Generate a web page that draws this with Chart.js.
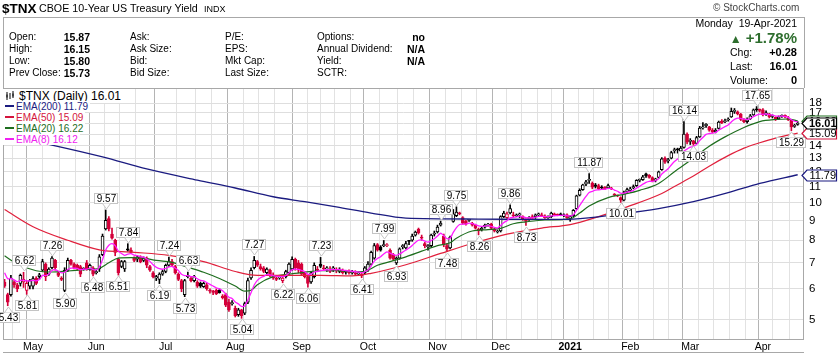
<!DOCTYPE html>
<html><head><meta charset="utf-8">
<script src="https://cdn.jsdelivr.net/npm/chart.js@4.4.0/dist/chart.umd.min.js"></script>
<style>
html,body{margin:0;padding:0;background:#fff;}
#wrap{position:relative;width:838px;height:355px;overflow:hidden;font-family:"Liberation Sans",Arial,sans-serif;color:#000;}
canvas{position:absolute;left:0;top:0;}
.t{position:absolute;white-space:nowrap;font-size:10px;line-height:12px;}
.b{font-weight:bold;font-size:10.5px;}
.r{text-align:right;}
#box{position:absolute;left:3px;top:17px;width:800px;height:70px;border:1px solid #a8a8a8;border-bottom:none;}
.lg{position:absolute;left:3px;white-space:nowrap;background:#fff;font-size:10px;line-height:11px;padding-right:2px;}
.dash{display:inline-block;width:9px;height:2px;margin:0 2px 0 2px;vertical-align:middle;position:relative;top:-1px;}
</style></head><body>
<div id="wrap">
<canvas id="c" width="838" height="355"></canvas>
<div id="box"></div>
<div class="t" style="left:2px;top:1px;font-size:13.5px;font-weight:bold;line-height:15px;">$TNX</div>
<div class="t" style="left:39px;top:2px;font-size:10.7px;">CBOE 10-Year US Treasury Yield</div>
<div class="t" style="left:204px;top:3px;font-size:9px;">INDX</div>
<div class="t" style="left:713px;top:2px;font-size:10px;color:#444;">© StockCharts.com</div>

<div class="t" style="left:9px;top:31px;">Open:</div>
<div class="t" style="left:9px;top:43px;">High:</div>
<div class="t" style="left:9px;top:55px;">Low:</div>
<div class="t" style="left:9px;top:67px;">Prev Close:</div>
<div class="t b r" style="left:40px;width:50px;top:31px;">15.87</div>
<div class="t b r" style="left:40px;width:50px;top:43px;">16.15</div>
<div class="t b r" style="left:40px;width:50px;top:55px;">15.80</div>
<div class="t b r" style="left:40px;width:50px;top:67px;">15.73</div>

<div class="t" style="left:130px;top:31px;">Ask:</div>
<div class="t" style="left:130px;top:43px;">Ask Size:</div>
<div class="t" style="left:130px;top:55px;">Bid:</div>
<div class="t" style="left:130px;top:67px;">Bid Size:</div>

<div class="t" style="left:225px;top:31px;">P/E:</div>
<div class="t" style="left:225px;top:43px;">EPS:</div>
<div class="t" style="left:225px;top:55px;">Mkt Cap:</div>
<div class="t" style="left:225px;top:67px;">Last Size:</div>

<div class="t" style="left:317px;top:31px;">Options:</div>
<div class="t" style="left:317px;top:43px;">Annual Dividend:</div>
<div class="t" style="left:317px;top:55px;">Yield:</div>
<div class="t" style="left:317px;top:67px;">SCTR:</div>
<div class="t b r" style="left:375px;width:50px;top:31px;">no</div>
<div class="t b r" style="left:375px;width:50px;top:43px;">N/A</div>
<div class="t b r" style="left:375px;width:50px;top:55px;">N/A</div>

<div class="t r" style="left:640px;width:157px;top:17px;font-size:10.5px;">Monday&nbsp; 19-Apr-2021</div>
<div class="t r" style="left:640px;width:157px;top:30px;font-size:15px;line-height:16px;font-weight:bold;color:#2e6e2e;"><span style="font-size:12px;">&#9650;</span> +1.78%</div>
<div class="t" style="left:730px;top:46px;font-size:10.5px;">Chg:</div>
<div class="t b r" style="left:747px;width:50px;top:46px;font-size:11px;">+0.28</div>
<div class="t" style="left:730px;top:60px;font-size:10.5px;">Last:</div>
<div class="t b r" style="left:747px;width:50px;top:60px;font-size:11px;">16.01</div>
<div class="t" style="left:730px;top:74px;font-size:10.5px;">Volume:</div>
<div class="t b r" style="left:747px;width:50px;top:74px;font-size:11px;">0</div>

<div class="lg" style="top:89px;font-size:12px;line-height:14px;"><svg width="11" height="10" style="vertical-align:-1px;margin:0 3px 0 2px"><path d="M2 1V9M5 2V8M8 0V7" stroke="#000" stroke-width="1"/><rect x="1.5" y="3.5" width="1" height="3" fill="#000"/><rect x="7.5" y="2.5" width="1" height="3" fill="#000"/></svg>$TNX (Daily) 16.01</div>
<div class="lg" style="top:101px;color:#1b1b80;"><span class="dash" style="background:#1b1b80"></span>EMA(200) 11.79</div>
<div class="lg" style="top:112px;color:#d4143c;"><span class="dash" style="background:#d4143c"></span>EMA(50) 15.09</div>
<div class="lg" style="top:123px;color:#1e6e1e;"><span class="dash" style="background:#1e6e1e"></span>EMA(20) 16.22</div>
<div class="lg" style="top:134px;color:#f020f0;"><span class="dash" style="background:#f020f0"></span>EMA(8) 16.12</div>
<div style="position:absolute;left:3px;top:352px;width:801px;height:1px;background:#a8a8a8;"></div>
</div>
<script>
// Trading-day index 0 = 20-Apr-2020 ... 251 = 19-Apr-2021
const open = [
6.25,5.80,5.80,6.25,6.15,6.20,6.25,5.95,6.10,6.10,
6.40,6.45,6.70,6.95,6.55,6.80,7.10,6.60,6.40,5.95,
6.70,7.10,6.95,6.90,6.85,6.75,7.00,6.75,6.80,6.60,
6.75,7.35,8.55,9.10,8.30,8.00,7.15,6.85,6.75,7.60,
7.55,7.20,7.15,7.25,7.10,7.20,6.85,6.60,6.40,6.35,
6.55,6.65,6.90,7.05,6.85,6.55,6.30,5.80,6.45,6.40,
6.30,6.25,6.20,6.08,6.15,5.95,5.90,5.95,5.95,5.75,
5.80,5.55,5.50,5.35,5.15,5.30,5.20,5.55,6.40,6.80,
7.05,6.85,6.80,6.60,6.70,6.50,6.40,6.40,6.30,6.45,
6.60,6.75,7.15,7.00,6.95,6.60,6.45,6.25,6.45,6.75,
6.95,6.80,6.75,6.70,6.75,6.70,6.65,6.70,6.62,6.65,
6.60,6.60,6.55,6.55,6.60,6.70,6.95,7.20,7.80,7.70,
7.75,7.75,7.55,7.35,7.00,7.20,7.70,7.65,7.95,8.00,
8.25,8.55,8.15,7.85,7.70,7.75,8.30,8.40,8.75,8.20,
7.75,7.65,8.95,9.25,9.40,9.15,8.95,9.00,8.85,8.75,
8.55,8.50,8.65,8.75,8.80,8.55,8.40,8.45,9.20,9.15,
9.40,9.30,9.25,9.30,9.20,9.05,9.05,9.20,9.20,9.30,
9.30,9.25,9.15,9.20,9.35,9.30,9.35,9.25,9.30,9.10,
9.25,9.65,10.45,10.80,11.15,11.40,11.20,11.10,11.05,10.95,
10.95,10.90,10.90,10.50,10.40,10.30,10.15,10.65,10.75,10.90,
11.05,11.40,11.45,11.85,11.75,11.60,11.40,11.60,12.15,13.00,
12.80,13.00,13.60,13.75,13.55,13.85,15.00,14.35,14.40,14.20,
14.75,15.55,15.75,15.65,15.35,15.20,15.50,16.20,16.15,16.30,
16.60,17.15,17.10,16.85,16.35,16.15,16.40,16.80,17.35,17.30,
17.30,16.85,16.90,16.65,16.55,16.40,16.65,16.75,16.50,16.30,15.70,15.87];
const high = [
6.35,5.85,6.50,6.30,6.20,6.55,6.62,6.30,6.35,6.45,
6.45,6.58,7.15,7.00,6.80,7.26,7.15,6.65,6.45,6.80,
7.20,7.15,7.00,6.95,6.90,6.80,7.10,6.95,6.85,6.70,
7.35,8.30,9.57,9.20,8.60,8.05,7.20,7.10,7.10,7.84,
7.65,7.25,7.30,7.30,7.25,7.25,6.90,6.65,6.50,6.60,
6.70,6.95,7.24,7.15,6.90,6.60,6.35,6.35,6.63,6.45,
6.50,6.30,6.25,6.25,6.20,6.00,5.95,6.00,6.00,5.80,
5.85,5.65,5.60,5.42,5.35,5.32,5.55,6.40,6.80,7.27,
7.10,6.95,6.85,6.80,6.75,6.60,6.45,6.50,6.45,6.70,
7.00,7.25,7.20,7.10,7.00,6.65,6.50,6.65,7.00,6.85,
7.23,6.90,6.85,6.85,6.85,6.80,6.80,6.75,6.70,6.72,
6.70,6.68,6.65,6.60,6.85,7.05,7.50,7.85,7.85,7.75,
7.99,7.85,7.60,7.40,7.25,7.65,7.80,7.95,8.00,8.30,
8.45,8.60,8.25,7.90,7.80,8.30,8.45,8.75,8.96,8.30,
7.85,8.20,9.60,9.75,9.45,9.20,9.00,9.05,8.90,8.80,
8.60,8.65,8.80,8.85,8.85,8.60,8.50,9.25,9.50,9.45,
9.86,9.45,9.35,9.40,9.25,9.10,9.20,9.30,9.35,9.40,
9.40,9.30,9.25,9.45,9.40,9.35,9.40,9.35,9.35,9.25,
9.60,10.45,10.85,11.15,11.40,11.87,11.30,11.20,11.15,11.05,
11.00,11.15,10.95,10.55,10.45,10.35,10.70,10.90,10.95,11.10,
11.45,11.50,11.75,11.90,11.80,11.65,11.55,12.05,13.05,13.10,
13.00,13.55,13.80,13.80,13.95,16.14,15.10,14.60,14.45,14.80,
15.70,16.05,15.95,15.70,15.50,15.50,16.20,16.35,16.40,16.50,
17.50,17.45,17.20,16.95,16.45,16.50,16.85,17.40,17.65,17.40,
17.45,17.20,16.95,16.80,16.60,16.70,16.80,16.80,16.65,16.35,15.90,16.15];
const low = [
6.05,5.43,5.75,6.05,5.90,6.10,6.05,5.81,6.00,6.00,
6.15,6.35,6.65,6.30,6.50,6.75,6.70,6.45,6.30,5.90,
6.65,6.90,6.75,6.70,6.45,6.70,6.70,6.70,6.48,6.55,
6.65,7.30,8.50,8.45,8.05,7.30,6.51,6.80,6.65,7.50,
7.40,7.05,7.05,7.00,7.05,6.80,6.65,6.40,6.30,6.19,
6.50,6.60,6.85,6.85,6.55,6.30,5.90,5.73,6.40,6.25,
6.25,6.05,6.05,6.05,5.95,5.85,5.80,5.80,5.85,5.65,
5.40,5.25,5.45,5.08,5.10,5.04,5.15,5.50,6.35,6.75,
6.85,6.70,6.60,6.55,6.45,6.35,6.30,6.35,6.22,6.40,
6.55,6.70,6.70,6.60,6.50,6.40,6.06,6.20,6.40,6.65,
6.80,6.70,6.65,6.60,6.65,6.60,6.60,6.55,6.55,6.55,
6.55,6.50,6.50,6.41,6.55,6.65,6.90,7.15,7.50,7.50,
7.70,7.70,7.15,7.10,6.93,7.15,7.60,7.60,7.80,7.95,
8.20,8.30,8.00,7.65,7.55,7.70,8.20,8.35,8.70,7.70,
7.48,7.60,8.90,9.20,9.30,8.80,8.75,8.95,8.70,8.55,
8.26,8.45,8.60,8.70,8.55,8.40,8.35,8.40,9.15,9.10,
9.35,9.20,9.20,9.15,9.00,8.73,9.00,9.05,9.10,9.25,
9.20,9.10,9.10,9.15,9.25,9.25,9.25,9.20,9.10,8.95,
9.20,9.60,10.40,10.75,11.05,11.20,10.85,10.90,10.80,10.85,
10.80,10.85,10.80,10.40,10.35,10.01,10.10,10.55,10.70,10.85,
11.00,11.30,11.40,11.60,11.55,11.30,11.30,11.55,12.10,12.60,
12.65,12.95,13.40,13.40,13.45,13.80,14.15,14.10,14.03,14.15,
14.70,15.45,15.60,15.25,15.10,15.10,15.45,15.95,16.05,16.20,
16.55,16.95,16.80,16.25,16.05,16.00,16.35,16.75,17.15,17.10,
16.70,16.75,16.50,16.50,16.25,16.35,16.55,16.50,16.25,15.29,15.60,15.80];
const close = [
6.10,5.55,6.40,6.15,6.00,6.50,6.35,6.20,6.30,6.38,
6.20,6.52,7.05,6.45,6.75,7.20,6.80,6.50,6.35,6.70,
7.10,6.95,6.80,6.75,6.55,6.78,6.75,6.90,6.55,6.65,
7.25,8.20,9.00,8.55,8.10,7.45,6.60,7.05,7.05,7.55,
7.45,7.10,7.25,7.05,7.20,6.90,6.70,6.45,6.45,6.55,
6.65,6.90,7.05,6.90,6.60,6.35,6.00,6.30,6.50,6.30,
6.45,6.10,6.10,6.20,6.00,5.92,5.88,5.82,5.87,5.70,
5.45,5.30,5.52,5.12,5.30,5.12,5.50,6.30,6.70,7.10,
6.90,6.75,6.65,6.75,6.50,6.40,6.35,6.45,6.40,6.65,
6.95,7.15,6.80,6.70,6.55,6.45,6.20,6.60,6.90,6.70,
6.85,6.75,6.80,6.65,6.80,6.68,6.75,6.60,6.65,6.60,
6.62,6.55,6.60,6.48,6.80,6.95,7.45,7.75,7.55,7.55,
7.80,7.78,7.20,7.15,7.20,7.60,7.75,7.85,7.95,8.20,
8.40,8.35,8.10,7.75,7.75,8.25,8.35,8.65,8.85,7.80,
7.60,8.15,9.35,9.45,9.35,8.85,8.80,9.02,8.75,8.60,
8.45,8.60,8.75,8.80,8.60,8.45,8.45,9.20,9.40,9.35,
9.65,9.25,9.30,9.35,9.05,8.95,9.15,9.10,9.30,9.35,
9.25,9.15,9.20,9.40,9.30,9.28,9.30,9.30,9.15,9.20,
9.55,10.40,10.75,11.10,11.30,11.45,10.95,11.00,10.85,10.90,
10.85,11.05,10.85,10.45,10.40,10.15,10.60,10.80,10.85,11.00,
11.40,11.45,11.65,11.70,11.60,11.35,11.50,12.00,12.95,12.70,
12.90,13.45,13.65,13.65,13.80,15.00,14.30,14.45,14.15,14.70,
15.55,15.65,15.90,15.35,15.20,15.35,16.10,16.05,16.25,16.40,
17.15,17.20,16.90,16.35,16.15,16.30,16.70,17.30,17.30,17.25,
16.80,17.00,16.60,16.70,16.35,16.60,16.70,16.60,16.30,15.65,15.73,16.01];

// EMA(8), one value per trading day
const ema8 = [
6.60,6.37,6.38,6.33,6.26,6.31,6.32,6.29,6.29,6.31,
6.29,6.34,6.50,6.49,6.55,6.69,6.72,6.67,6.60,6.62,
6.73,6.78,6.78,6.77,6.72,6.74,6.74,6.78,6.73,6.71,
6.83,7.13,7.55,7.77,7.84,7.75,7.50,7.40,7.32,7.37,
7.39,7.33,7.31,7.25,7.24,7.16,7.06,6.92,6.82,6.76,
6.74,6.77,6.83,6.85,6.79,6.69,6.54,6.49,6.49,6.45,
6.45,6.37,6.31,6.29,6.23,6.16,6.10,6.04,6.00,5.93,
5.82,5.71,5.67,5.55,5.49,5.41,5.43,5.62,5.86,6.14,
6.31,6.41,6.46,6.53,6.52,6.49,6.46,6.46,6.45,6.49,
6.59,6.72,6.74,6.73,6.69,6.64,6.54,6.55,6.63,6.65,
6.69,6.70,6.72,6.71,6.73,6.72,6.73,6.70,6.69,6.67,
6.66,6.64,6.63,6.60,6.64,6.71,6.87,7.07,7.18,7.26,
7.38,7.47,7.41,7.35,7.32,7.38,7.46,7.55,7.64,7.76,
7.90,8.00,8.02,7.96,7.91,7.99,8.07,8.20,8.34,8.22,
8.08,8.10,8.38,8.62,8.78,8.80,8.80,8.85,8.83,8.78,
8.71,8.69,8.70,8.72,8.69,8.64,8.60,8.73,8.88,8.98,
9.13,9.16,9.19,9.23,9.19,9.14,9.14,9.13,9.17,9.21,
9.22,9.20,9.20,9.24,9.25,9.26,9.27,9.28,9.25,9.24,
9.31,9.55,9.82,10.10,10.37,10.61,10.69,10.76,10.78,10.81,
10.82,10.87,10.86,10.77,10.69,10.57,10.58,10.63,10.68,10.75,
10.89,11.01,11.15,11.27,11.34,11.34,11.38,11.52,11.84,12.03,
12.22,12.49,12.75,12.95,13.14,13.55,13.72,13.88,13.94,14.11,
14.43,14.70,14.97,15.05,15.08,15.14,15.35,15.51,15.67,15.83,
16.12,16.36,16.48,16.45,16.38,16.36,16.44,16.63,16.78,16.88,
16.86,16.89,16.82,16.79,16.69,16.67,16.67,16.65,16.55,16.33,16.18,16.12];

// Slower averages read at selected trading days: [dayIndex, value]
const ema20 = [[0,7.30],[4,6.95],[10,6.68],[15,6.63],[20,6.67],[25,6.72],[30,6.78],[33,7.00],[36,7.20],[40,7.22],[44,7.20],[48,7.10],[53,7.02],[58,6.82],[63,6.62],[68,6.38],[73,6.10],[76,5.92],[78,5.95],[80,6.15],[85,6.45],[90,6.55],[95,6.62],[100,6.68],[105,6.68],[110,6.64],[114,6.66],[118,6.90],[122,7.05],[127,7.25],[132,7.50],[137,7.75],[141,7.88],[143,8.10],[148,8.45],[153,8.52],[157,8.58],[161,8.82],[165,8.92],[171,9.02],[179,9.08],[182,9.40],[185,9.80],[191,10.30],[196,10.50],[201,10.75],[207,11.20],[212,12.00],[218,13.00],[223,13.95],[228,14.75],[234,15.60],[239,16.15],[244,16.35],[248,16.40],[251,16.22]];
const ema50 = [[0,9.60],[9,8.67],[20,8.00],[30,7.56],[41,7.45],[52,7.32],[63,7.05],[73,6.65],[80,6.50],[86,6.50],[100,6.50],[110,6.48],[116,6.58],[127,6.92],[138,7.40],[148,7.85],[159,8.30],[170,8.60],[179,8.78],[187,9.15],[197,9.75],[208,10.55],[212,11.00],[218,11.70],[223,12.40],[229,13.20],[234,13.80],[239,14.25],[244,14.65],[251,15.09]];
const ema200 = [[0,14.90],[15,14.05],[31,13.10],[45,12.20],[61,11.42],[73,10.90],[85,10.35],[95,10.05],[105,9.75],[116,9.40],[127,9.12],[150,9.07],[170,9.05],[180,9.07],[195,9.35],[207,9.65],[218,10.05],[229,10.60],[239,11.20],[251,11.79]];

// High / low callouts: [dayIndex, value, 'H' above | 'L' below]
const callouts = [[1,5.43,'L'],[6,6.62,'H'],[7,5.81,'L'],[15,7.26,'H'],[19,5.90,'L'],[28,6.48,'L'],[32,9.57,'H'],[36,6.51,'L'],[39,7.84,'H'],[49,6.19,'L'],[52,7.24,'H'],[57,5.73,'L'],[58,6.63,'H'],[75,5.04,'L'],[79,7.27,'H'],[88,6.22,'L'],[96,6.06,'L'],[100,7.23,'H'],[113,6.41,'L'],[120,7.99,'H'],[124,6.93,'L'],[138,8.96,'H'],[140,7.48,'L'],[143,9.75,'H'],[150,8.26,'L'],[160,9.86,'H'],[165,8.73,'L'],[185,11.87,'H'],[195,10.01,'L'],[215,16.14,'H'],[218,14.03,'L'],[238,17.65,'H'],[249,15.29,'L']];

// Axis ticks
const monthStarts = [9,29,51,73,94,115,137,157,179,198,217,240];
const monthLabels = ['May','Jun','Jul','Aug','Sep','Oct','Nov','Dec','2021','Feb','Mar','Apr'];
const weekStarts = [0,5,10,15,20,25,29,34,39,44,49,53,58,63,68,73,78,83,88,93,98,102,107,112,117,122,127,132,137,142,147,152,156,161,166,171,175,179,184,189,193,198,203,208,212,217,222,227,232,237,241,246,251];
const yTicks = [5,6,7,8,9,10,11,12,13,14,15,16,17,18];

// Right-edge value tags: [value, border colour, bold]
const tags = [[11.79,'#1b1b80',false],[15.09,'#d4143c',false],[16.22,'#1e6e1e',false],[16.01,'#000000',true]];

const RED = '#d4003a', BLK = '#000000';
const N = close.length;
const candleColor = [], bodyFill = [], wick = [], body = [];
for (let i = 0; i < N; i++) {
  const prev = i > 0 ? close[i-1] : open[i];
  const col = close[i] >= prev ? BLK : RED;
  candleColor.push(col);
  bodyFill.push(close[i] > open[i] ? '#ffffff' : col);
  wick.push({x: i, y: [low[i], high[i]]});
  body.push({x: i, y: [Math.min(open[i], close[i]), Math.max(open[i], close[i])]});
}
const monthMap = {}; monthStarts.forEach((m, k) => monthMap[m] = monthLabels[k]);
const gridTicks = [...new Set([...monthStarts, ...weekStarts.filter(w => !monthStarts.some(m => Math.abs(m - w) <= 2))])].sort((a,b)=>a-b);

const overlay = {
  id: 'overlay',
  afterDatasetsDraw(chart) {
    const ctx = chart.ctx, xs = chart.scales.x, ys = chart.scales.y, ca = chart.chartArea;
    ctx.save();
    ctx.strokeStyle = '#a8a8a8'; ctx.lineWidth = 1;
    ctx.strokeRect(ca.left + 0.5, ca.top + 0.5, ca.right - ca.left - 1, ca.bottom - ca.top);
    ctx.font = '10px "Liberation Sans", Arial, sans-serif';
    ctx.textAlign = 'center'; ctx.textBaseline = 'middle';
    for (const [i, v, t] of callouts) {
      const px = Math.round(xs.getPixelForValue(i)), py = Math.round(ys.getPixelForValue(v));
      const txt = v.toFixed(2);
      const w = Math.round(ctx.measureText(txt).width) + 5, h = 11;
      const bx = px - Math.round(w / 2);
      let by, tipY, baseY;
      if (t === 'H') { by = py - 6 - h; baseY = by + h; tipY = py - 1; }
      else { by = py + 6; baseY = by; tipY = py + 1; }
      ctx.fillStyle = '#ffffff'; ctx.strokeStyle = '#c4c4c4';
      ctx.fillRect(bx, by, w, h);
      ctx.strokeRect(bx + 0.5, by + 0.5, w - 1, h - 1);
      ctx.beginPath();
      ctx.moveTo(px - 3.5, baseY + (t === 'H' ? -0.5 : 0.5));
      ctx.lineTo(px + 0.5, tipY);
      ctx.lineTo(px + 4.5, baseY + (t === 'H' ? -0.5 : 0.5));
      ctx.fillStyle = '#ffffff'; ctx.fill(); ctx.stroke();
      ctx.fillStyle = '#000000';
      ctx.fillText(txt, px + 0.5, by + h / 2 + 0.5);
    }
    for (const [v, col, bold] of tags) {
      const py = Math.round(ys.getPixelForValue(v)) + 0.5;
      const x0 = ca.right - 2, x1 = ca.right + 3, x2 = 836.5;
      ctx.beginPath();
      ctx.moveTo(x0, py); ctx.lineTo(x1, py - 5.5); ctx.lineTo(x2, py - 5.5);
      ctx.lineTo(x2, py + 5.5); ctx.lineTo(x1, py + 5.5); ctx.closePath();
      ctx.fillStyle = '#ffffff'; ctx.fill();
      ctx.strokeStyle = col; ctx.lineWidth = 1.2; ctx.stroke();
      ctx.fillStyle = '#000000';
      ctx.font = (bold ? 'bold ' : '') + '11px "Liberation Sans", Arial, sans-serif';
      ctx.textAlign = 'center';
      ctx.fillText(v.toFixed(2), (x1 + x2) / 2 + 1, py + 0.5);
    }
    ctx.restore();
  }
};

new Chart(document.getElementById('c'), {
  type: 'bar',
  data: {
    datasets: [
      {type: 'line', data: ema200.map(p => ({x: p[0], y: p[1]})), borderColor: '#1b1b80', borderWidth: 1.3, pointRadius: 0, cubicInterpolationMode: 'monotone', order: -1},
      {type: 'line', data: ema50.map(p => ({x: p[0], y: p[1]})), borderColor: '#e0203c', borderWidth: 1.2, pointRadius: 0, cubicInterpolationMode: 'monotone', order: -1},
      {type: 'line', data: ema20.map(p => ({x: p[0], y: p[1]})), borderColor: '#1e6e1e', borderWidth: 1.2, pointRadius: 0, cubicInterpolationMode: 'monotone', order: -1},
      {type: 'line', data: ema8.map((v, i) => ({x: i, y: v})), borderColor: '#ff1cff', borderWidth: 1.3, pointRadius: 0, tension: 0.3, order: -2},
      {type: 'bar', data: wick, backgroundColor: candleColor, borderWidth: 0, barThickness: 1, grouped: false, order: 1},
      {type: 'bar', data: body, backgroundColor: bodyFill, borderColor: candleColor, borderWidth: 1, borderSkipped: false, barThickness: 3, minBarLength: 1, grouped: false, order: 0}
    ]
  },
  options: {
    responsive: false, animation: false, events: [],
    layout: {padding: {top: 88, left: 3, right: 0, bottom: 0}},
    plugins: {legend: {display: false}, tooltip: {enabled: false}},
    scales: {
      x: {
        type: 'linear', min: -0.5, max: 253, offset: false,
        afterBuildTicks: s => { s.ticks = gridTicks.map(v => ({value: v})); },
        afterFit: s => { s.height = 16; },
        grid: {drawTicks: false, color: c => (c.tick && monthMap[c.tick.value] !== undefined) ? '#b4b4b4' : '#e2e2e2', lineWidth: 1},
        border: {display: false},
        ticks: {
          autoSkip: false, maxRotation: 0, padding: 2, color: '#000',
          font: c => ({family: '"Liberation Sans", Arial, sans-serif', size: 10.5, weight: (c.tick && c.tick.value === 179) ? 'bold' : 'normal'}),
          callback: v => monthMap[v] !== undefined ? monthMap[v] : ''
        }
      },
      y: {
        type: 'logarithmic', position: 'right', min: 4.46, max: 19.7,
        afterBuildTicks: s => { s.ticks = yTicks.map(v => ({value: v})); },
        afterFit: s => { s.width = 34; },
        grid: {drawTicks: false, color: '#dedede'},
        border: {display: false},
        ticks: {padding: 5, color: '#000', font: {family: '"Liberation Sans", Arial, sans-serif', size: 11.5}, callback: v => String(v)}
      }
    }
  },
  plugins: [overlay]
});
</script>
</body></html>
